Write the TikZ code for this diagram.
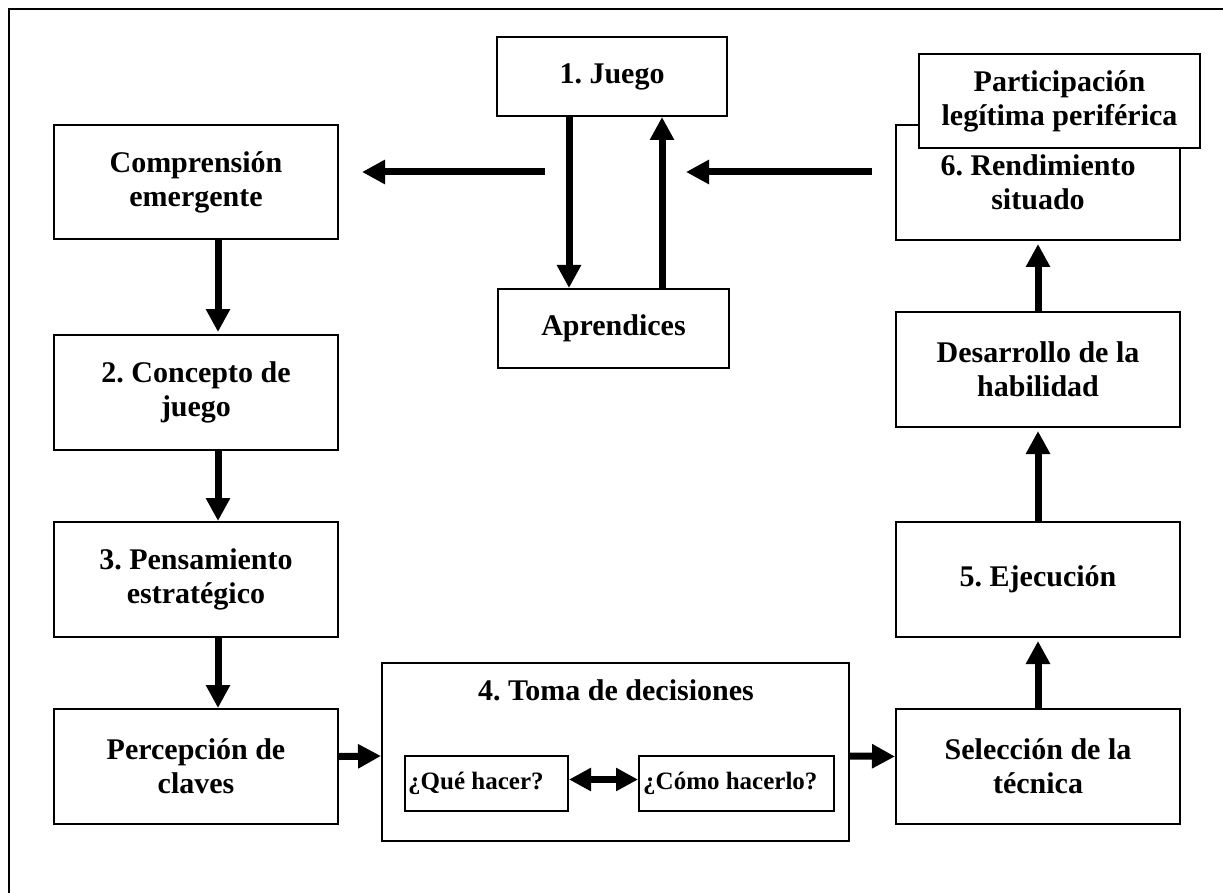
\documentclass[tikz,border=0pt]{standalone}
\usepackage{fontspec}
\setmainfont{Liberation Serif}
\usetikzlibrary{arrows.meta}
\frenchspacing

\tikzset{
  box/.style={draw, line width=2pt, fill=white, inner sep=0pt, align=center,
    font=\bfseries\fontsize{30}{34}\selectfont},
  smallbox/.style={draw, line width=2pt, fill=white, inner sep=0pt},
  smalltext/.style={inner sep=0pt, anchor=west, font=\bfseries\fontsize{25}{28}\selectfont},
  title/.style={inner sep=0pt, font=\bfseries\fontsize{30}{34}\selectfont},
  arr/.style={line width=7pt, -{Triangle[length=23pt,width=23pt]}},
  dbl/.style={line width=7pt, {Triangle[length=22pt,width=22pt]}-{Triangle[length=22pt,width=22pt]}}
}

\begin{document}
\begin{tikzpicture}[x=1pt,y=-1pt]
\useasboundingbox (0,0) rectangle (1223,893);

% open frame: top and left edges
\draw[line width=2.2pt] (9,893) -- (9,9) -- (1223,9);

% centre column
\node[box, minimum width=230pt, minimum height=79pt] (juego) at (612,76.5) {1. Juego};
\node[box, minimum width=231pt, minimum height=79pt] (apr) at (613.5,328.5) {Aprendices};

% left column
\node[box, minimum width=284pt, minimum height=114pt] (comp) at (196,182) {Comprensión\\emergente};
\node[box, minimum width=284pt, minimum height=115pt] (conc) at (196,392.5) {2. Concepto de\\juego};
\node[box, minimum width=284pt, minimum height=115pt] (pens) at (196,579.5) {3. Pensamiento\\estratégico};
\node[box, minimum width=284pt, minimum height=115pt] (perc) at (196,766.5) {Percepción de\\claves};

% right column
\node[box, minimum width=284pt, minimum height=115pt] (rend) at (1038,182.5) {6. Rendimiento\\situado};
\node[box, minimum width=281pt, minimum height=94pt] (part) at (1059.5,101) {Participación\\legítima periférica};
\node[box, minimum width=284pt, minimum height=115pt] (desa) at (1038,369.5) {Desarrollo de la\\habilidad};
\node[box, minimum width=284pt, minimum height=115pt] (ejec) at (1038,579.5) {5. Ejecución};
\node[box, minimum width=284pt, minimum height=115pt] (sele) at (1038,766.5) {Selección de la\\técnica};

% decision box with its two inner boxes
\node[smallbox, minimum width=467pt, minimum height=178pt] (toma) at (615.5,752) {};
\node[title] (tomatitle) at (616,690) {4. Toma de decisiones};
\node[smallbox, minimum width=163pt, minimum height=55pt] (que) at (486.5,783.5) {};
\node[smalltext] (quetext) at ([xshift=4pt]que.west) {¿Qué hacer?};
\node[smallbox, minimum width=195pt, minimum height=55pt] (como) at (736.5,783.5) {};
\node[smalltext] (comotext) at ([xshift=5pt]como.west) {¿Cómo hacerlo?};

% free ends of the two horizontal arrows
\coordinate (lefttail) at (545,172);
\coordinate (lefthead) at (362,172);
\coordinate (righttail) at (872,172);
\coordinate (righthead) at (686,172);

% connectors
\draw[arr] ([xshift=-43pt]juego.south) -- ([xshift=-44.5pt]apr.north);
\draw[arr] ([xshift=48.5pt]apr.north) -- ([xshift=50pt]juego.south);
\draw[arr] (lefttail) -- (lefthead);
\draw[arr] (righttail) -- (righthead);

\draw[arr] ([xshift=22pt]comp.south) -- ([xshift=22pt,yshift=2pt]conc.north);
\draw[arr] ([xshift=22pt]conc.south) -- ([xshift=22pt]pens.north);
\draw[arr] ([xshift=22pt]pens.south) -- ([xshift=22pt]perc.north);

\draw[arr] ([yshift=10pt]perc.east) -- ([yshift=-4pt]toma.west);
\draw[dbl] ([yshift=4pt]que.east) -- ([yshift=4pt]como.west);
\draw[arr] ([yshift=-4pt]toma.east) -- ([yshift=10pt]sele.west);

\draw[arr] (sele.north) -- ([yshift=-3pt]ejec.south);
\draw[arr] (ejec.north) -- ([yshift=-3pt]desa.south);
\draw[arr] (desa.north) -- ([yshift=-3pt]rend.south);
\end{tikzpicture}
\end{document}
